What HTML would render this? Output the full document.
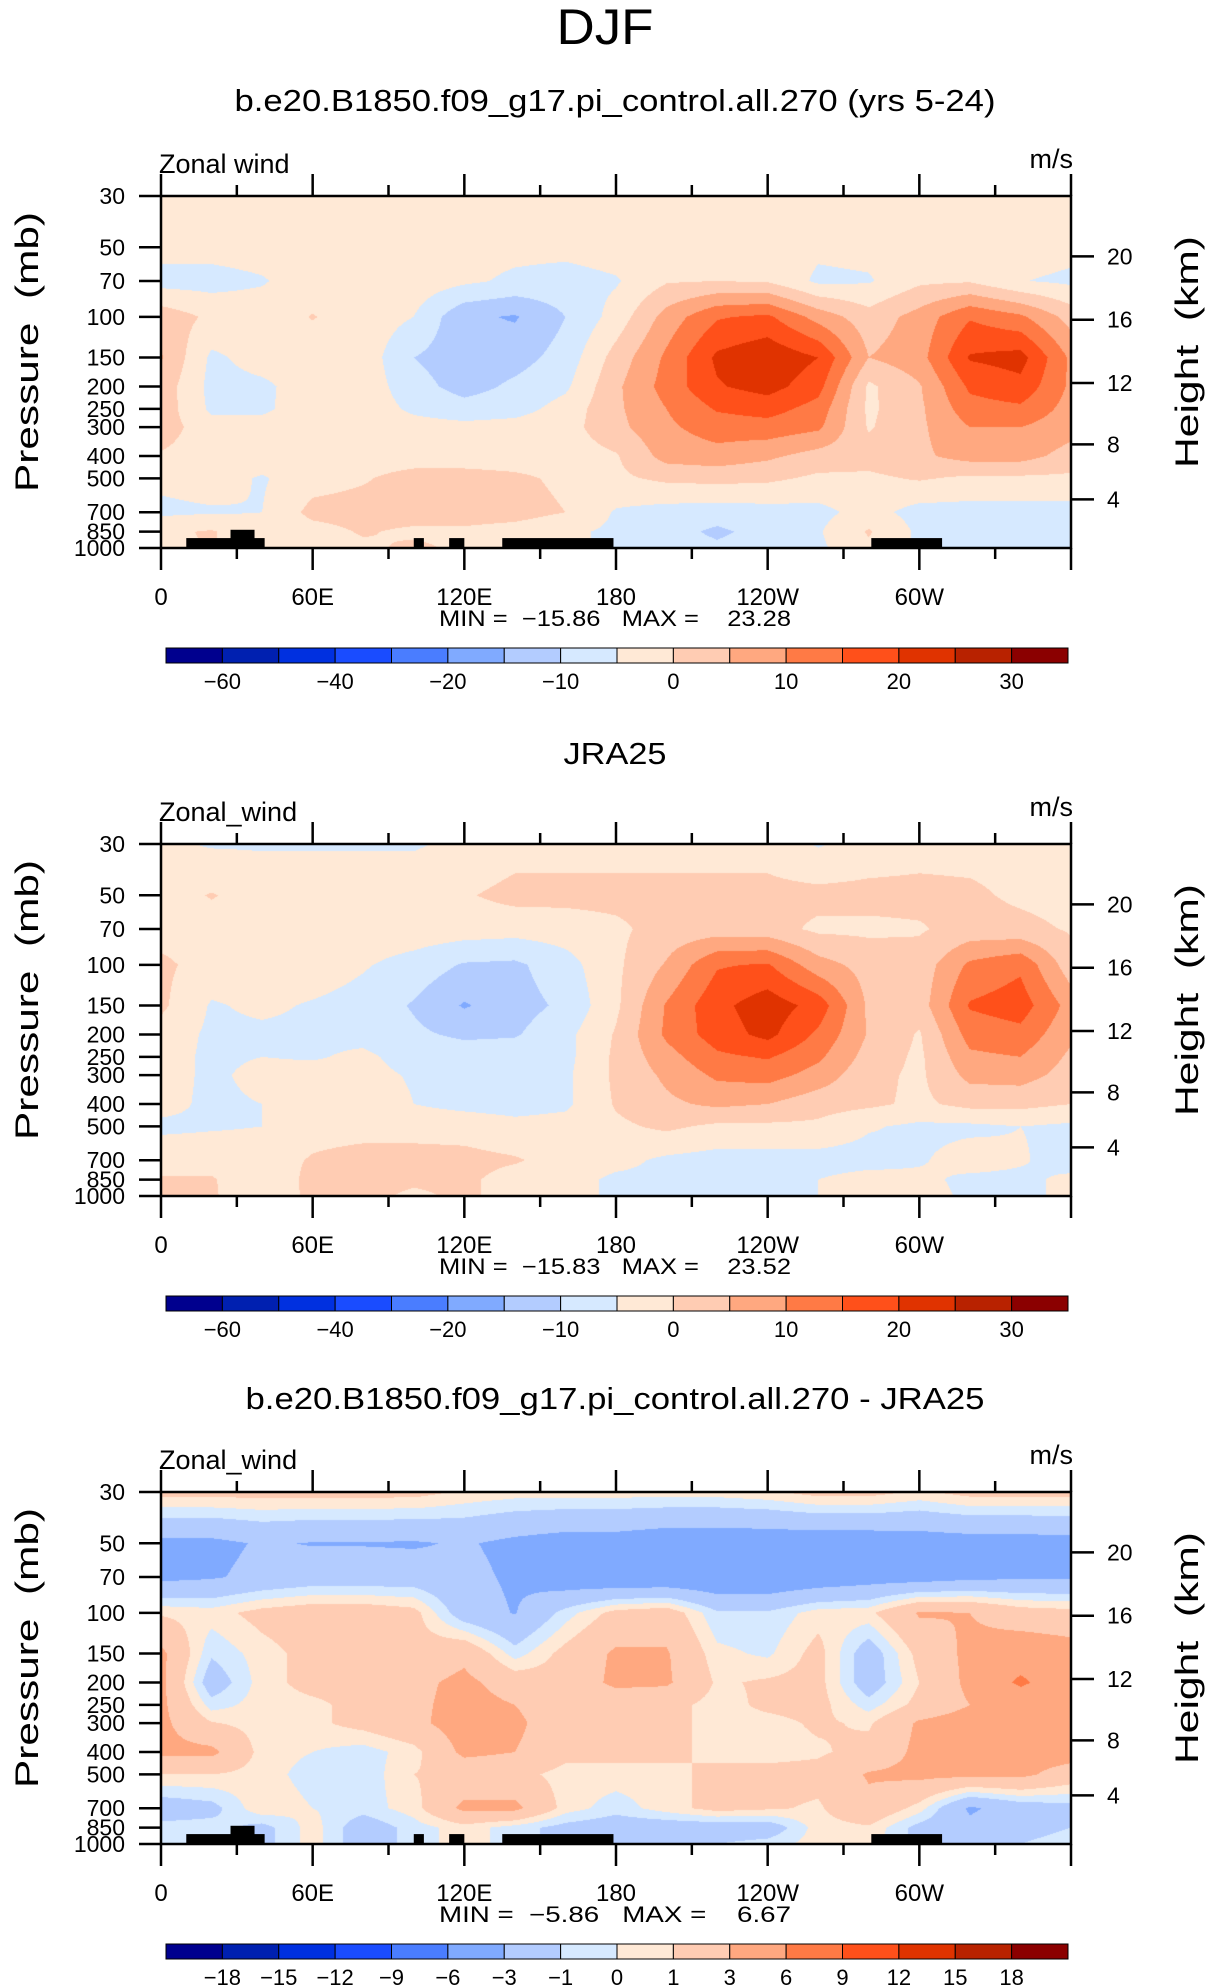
<!DOCTYPE html>
<html><head><meta charset="utf-8">
<style>
html,body{margin:0;padding:0;background:#fff;}
#wrap{position:relative;width:1206px;height:1987px;overflow:hidden;background:#fff;}
canvas{position:absolute;}
svg{position:absolute;left:0;top:0;}
text{font-family:"Liberation Sans",sans-serif;fill:#000;white-space:pre;}
</style></head>
<body>
<div id="wrap">
<canvas id="c0" width="910" height="352" style="left:161px;top:196px"></canvas>
<canvas id="c1" width="910" height="352" style="left:161px;top:844px"></canvas>
<canvas id="c2" width="910" height="352" style="left:161px;top:1492px"></canvas>
<svg id="s" width="1206" height="1987"></svg>
</div>
<script>
const lons=[0,20,40,60,80,100,120,140,160,180,200,220,240,260,280,300,320,340,360];
const plevs=[30,50,70,100,150,200,250,300,400,500,700,850,1000];
const modelVals=[
[-2,-2,-2,-2,-2,-2,-2,-2,-2,-2,-2,-2,-2,-2,-2,-2,-2,-2,-2],
[-3,-3,-2.5,-2,-2,-2,-3,-3.5,-3.5,-2.5,-2,-2,-2,-4,-3.5,-2,-2,-2.5,-3.5],
[-7,-7,-5.5,-2,-2,-2,-4,-6,-7,-5.5,-0.5,0,-0.5,-6,-5.5,-1,-0.5,-4.8,-6],
[3,-1,-2,0.2,-2,-5,-14,-15.5,-10,-3,7,14.5,16,8,2,7,14.5,11,3],
[5.5,-6,-3,-2,-2,-10,-13,-12,-8,2,11,21,24,20,5,8,20.5,22,9],
[3,-6.5,-6,-2.5,-2,-8,-12,-9,-6,4,12,19.5,22,17,-1,4.5,16,18.5,9],
[3,-6,-6,-2,-2,-6,-8,-7,-3,4,10,15.5,17,13,-1,4,13,14,8],
[2.5,-3,-3,-2,-2,-3,-3.5,-3,-2,3.5,9,12.5,13,11,-0.5,4,10,10,7],
[-0.5,-2.5,-2.5,-2.5,-2.5,-2.5,-2.5,-2.5,-2.5,-0.5,7,8,6,3,2,4,7,7,3],
[-4,-3,-5.5,-2,-0.5,2,2,1,-1,-1,1,1.5,1,-1,-1,0.5,-1,-1,-1],
[-6,-5.5,-5,1.5,2,2.5,2.5,2,0,-5.5,-7,-7.5,-7,-6.5,-3,-7,-7,-7,-7],
[-1,0.5,-4,-2,0.5,-1,-1,-2,-4,-6,-8,-11,-8,-5.5,0.5,-6,-6,-5.5,-5.5],
[-2,0.5,-4,-2,-1,1,-1,-2,-4,-6,-7,-9,-7,-6,-1,-6,-6,-6,-6]];
const jraVals=[
[-4,-5.5,-5.5,-5.5,-5.5,-5.5,-4,-2,-2,-2,-2,-2,-2,-5.5,-3,-2,-2,-2,-2],
[-2,0.3,-2,-2,-2,-2,-0.5,1.5,1.5,1.5,1.5,1.5,1.5,1.5,1.5,1.5,1,-1,-2],
[-2,-2,-2,-2,-2,-2,-2.5,-3,-2.5,-1,2,2.5,2,-1,-1,-0.5,2,1.5,-0.5],
[1,-2,-2,-2,-4.5,-7,-10.5,-11,-7,-1,5.5,14.5,15.5,7,3,2,11,14,2],
[1,-5.5,-4,-5.5,-7,-10.5,-15.5,-12,-9,-1,10.5,18.5,23,18,4,2.5,15.5,17.5,8],
[-2,-6,-6,-6,-6.5,-9,-11,-10.5,-6.5,0.5,11,17.5,21.5,14,4.5,-0.5,12,13.5,6],
[-3,-6,-5,-5.5,-4,-7,-7,-7,-6.5,1,8,14,15.5,11,3,-1,9,10,4],
[-3,-6,-3.5,-3,-3.5,-5.5,-6.5,-6,-6,1,6,11,12,8,1.5,-1,6.5,7,3],
[-3.5,-6,-5,-3,-2,-5,-6.5,-7,-6,0.5,4,6,5,2,1,-1,1.5,1.5,0],
[-6,-5.5,-5,-2,-2,-2,-2,-3.5,-3,-1,1,-1,-1,-1,-4.5,-6,-6,-5,-6],
[-2,-2,-2.5,0.5,2,2,1.5,0.5,-2,-3.5,-6,-7,-7,-7,-7,-5.5,-3,-4.5,-7],
[0.5,0.5,-4,1.5,1.5,1,1,-2,-3,-6,-6,-6,-6,-5,-3,-4,-6,-6,-4],
[0.5,0.5,-3,1,1.5,-1,1,-2,-3,-6,-6,-6,-6,-5,-2,-3,-6,-6,-4]];
const diffVals=[
[1.5,1.5,1.5,1.5,1.5,1.5,0.8,0.5,0.5,0.5,0.5,0.5,0.8,1.5,1.5,0.8,1.5,1.5,1.5],
[-3.5,-3.5,-2.8,-3.1,-3.1,-3.2,-2.8,-3.5,-4,-4,-4.5,-4.5,-4.5,-4.5,-4.5,-4.2,-4,-4,-3.8],
[-3.5,-3.2,-2.5,-2,-2,-2,-2.5,-3.3,-4.5,-5,-5,-5,-5,-4.5,-4,-4,-3.5,-3.3,-3.2],
[0.8,0.5,1.5,2,2,1.5,-2,-3.1,-0.5,1.5,2,-0.8,-0.8,0.5,0.7,3.2,3,1.8,1.5],
[3.5,-0.8,0.5,1.5,1.5,1.5,2.5,-0.5,1.5,3.3,3.2,0.3,-0.2,1.5,-2,1.5,3.5,4.5,4],
[3.5,-2,0.5,1.5,1.5,2.5,3.5,2,1.5,3.5,3.3,0.8,1.2,1.5,-2,1,3.5,6.5,4],
[3.5,-0.5,0.5,0.7,1.5,2.5,3.8,3,1.5,1.5,1.5,0.5,1.3,1.5,-0.5,1.5,3,4,4],
[3.5,1.1,0.5,0.7,1.5,2.5,4,3.5,1.5,1.5,1.5,0.5,0.6,1.2,0.8,3.3,4,4,4],
[3.5,3.5,0.5,0,-0.5,0.5,3.5,3,1.5,1.5,1.5,0.5,0.5,0.8,1.5,3.5,4,4,4],
[1,1,0.5,-0.5,-0.7,1,1.5,1.5,0.5,0.5,0.5,1.5,1.5,1.5,3.2,3.5,3.5,3.5,2],
[-2,-1.5,0.8,0,-0.5,0.5,3.5,3.5,0.5,-0.5,0.5,1.5,1.2,0.8,2.5,0.5,-3.3,-2,-1.5],
[-0.5,-0.5,-1.5,0.5,-2,-0.5,0.5,-0.5,-1.5,-2,-2,-2,-2,0.5,0.8,-1.5,-2.5,-1.5,-1],
[-0.5,-0.5,-1.5,0.5,-2,-0.5,0.5,-0.5,-1.5,-2,-1.5,-1,-0.5,0.5,0.5,-1.5,-1.5,-1,-0.5]];
const levelsAbs=[-60,-50,-40,-30,-20,-15,-10,-5,0,5,10,15,20,25,30];
const levelsDiff=[-18,-15,-12,-9,-6,-3,-1,0,1,3,6,9,12,15,18];
const cbLabelsAbs=["−60","−40","−20","−10","0","10","20","30"];
const cbLabelIdxAbs=[0,2,4,6,8,10,12,14];
const cbLabelsDiff=["−18","−15","−12","−9","−6","−3","−1","0","1","3","6","9","12","15","18"];
const cbLabelIdxDiff=[0,1,2,3,4,5,6,7,8,9,10,11,12,13,14];
const colors=["#00008e","#0020b0","#0030e0","#1a4cff","#4a7dff","#80aaff","#b3ccff","#d6e9ff","#ffe9d6","#ffccb3","#ffa880","#ff7a45","#ff501a","#e03300","#b82200","#8b0000"];
const pTicks=[30,50,70,100,150,200,250,300,400,500,700,850,1000];
const zTicks=[4,8,12,16,20];
const lonTicks=[0,30,60,90,120,150,180,210,240,270,300,330,360];
const lonLabels={0:"0",60:"60E",120:"120E",180:"180",240:"120W",300:"60W"};
const topoStart=[10,27.5,100,114,135,281];
const topoEnd=[41,37,104,120,179,309];
const topoP=[906,834,906,906,906,906];
const titles=["b.e20.B1850.f09_g17.pi_control.all.270 (yrs 5-24)","JRA25","b.e20.B1850.f09_g17.pi_control.all.270 - JRA25"];
const titleW=[761,103,739];
const leftLabels=["Zonal wind","Zonal_wind","Zonal_wind"];
const minVals=["−15.86","−15.83","−5.86"];
const maxVals=["23.28","23.52","6.67"];

const X0=161,W=910,H=352;
const tops=[196,844,1492];
const titleY=[111,764,1409];
const LP0=Math.log10(30),LPR=Math.log10(1000)-Math.log10(30);
function xOf(lon){return X0+lon/360*W;}
function yOf(p,top){return top+(Math.log10(p)-LP0)/LPR*H;}
function pOfZ(z){const m=z*1000;return m<=11000?1013.25*Math.pow(1-2.25577e-5*m,5.25588):226.32*Math.exp(-(m-11000)/6341.6);}
const lpl=plevs.map(p=>Math.log10(p));
function fieldAt(vals,lon,lp){
  let k=0;while(k<lpl.length-2&&lp>lpl[k+1])k++;
  let t=(lp-lpl[k])/(lpl[k+1]-lpl[k]);t=Math.max(0,Math.min(1,t));
  let i=Math.min(Math.floor(lon/20),lons.length-2);let s=(lon-lons[i])/20;
  const a=vals[k][i]*(1-s)+vals[k][i+1]*s;
  const b=vals[k+1][i]*(1-s)+vals[k+1][i+1]*s;
  return a*(1-t)+b*t;
}
function hex(c){return [parseInt(c.slice(1,3),16),parseInt(c.slice(3,5),16),parseInt(c.slice(5,7),16)];}
const rgb=colors.map(hex);
function drawField(id,vals,levels){
  const cv=document.getElementById(id),ctx=cv.getContext('2d');
  const img=ctx.createImageData(W,H);
  for(let py=0;py<H;py++){
    const lp=LP0+(py+0.5)/H*LPR;
    for(let px=0;px<W;px++){
      const v=fieldAt(vals,(px+0.5)/W*360,lp);
      let c=0;while(c<levels.length&&v>=levels[c])c++;
      const o=(py*W+px)*4,col=rgb[c];
      img.data[o]=col[0];img.data[o+1]=col[1];img.data[o+2]=col[2];img.data[o+3]=255;
    }
  }
  ctx.putImageData(img,0,0);
}
drawField('c0',modelVals,levelsAbs);
drawField('c1',jraVals,levelsAbs);
drawField('c2',diffVals,levelsDiff);

const NS="http://www.w3.org/2000/svg";
const svg=document.getElementById('s');
function mk(tag,attrs,txt){const e=document.createElementNS(NS,tag);for(const k in attrs)e.setAttribute(k,attrs[k]);if(txt!==undefined)e.textContent=txt;svg.appendChild(e);return e;}

let e=mk('text',{x:605,y:44,'font-size':50,'text-anchor':'middle',textLength:97,lengthAdjust:'spacingAndGlyphs'},'DJF');



for(let P=0;P<3;P++){
  const top=tops[P],bot=top+H;
  e=mk('text',{x:615,y:titleY[P],'font-size':31,'text-anchor':'middle',textLength:titleW[P],lengthAdjust:'spacingAndGlyphs'},titles[P]);
  
  
  e=mk('text',{x:159,y:top-23,'font-size':27},leftLabels[P]);
  
  
  e=mk('text',{x:1073,y:top-28,'font-size':27,'text-anchor':'end'},'m/s');
  
  
  if(P!==1){
    for(let j=0;j<topoStart.length;j++){
      e=mk('rect',{x:xOf(topoStart[j]),y:yOf(topoP[j],top),width:xOf(topoEnd[j])-xOf(topoStart[j]),height:bot-yOf(topoP[j],top),fill:'#000'});
      
      
    }
  }
  e=mk('rect',{x:X0,y:top,width:W,height:H,fill:'none',stroke:'#000','stroke-width':2.5});
  
  
  lonTicks.forEach(l=>{
    const major=(l%60===0);const len=major?22:11;
    e=mk('line',{x1:xOf(l),x2:xOf(l),y1:top,y2:top-len,stroke:'#000','stroke-width':2.5});
    
    
    e=mk('line',{x1:xOf(l),x2:xOf(l),y1:bot,y2:bot+len,stroke:'#000','stroke-width':2.5});
    
    
    if(lonLabels[l]!==undefined){
      e=mk('text',{x:xOf(l),y:bot+57,'font-size':24,'text-anchor':'middle'},lonLabels[l]);
      
      
    }
  });
  pTicks.forEach(p=>{
    e=mk('line',{x1:X0-22,x2:X0,y1:yOf(p,top),y2:yOf(p,top),stroke:'#000','stroke-width':2.5});
    
    
    e=mk('text',{x:125,y:yOf(p,top)+8,'font-size':23,'text-anchor':'end'},String(p));
    
    
  });
  zTicks.forEach(z=>{
    const y=yOf(pOfZ(z),top);
    e=mk('line',{x1:X0+W,x2:X0+W+23,y1:y,y2:y,stroke:'#000','stroke-width':2.5});
    
    
    e=mk('text',{x:1107,y:y+8,'font-size':23},String(z));
    
    
  });
  const mid=top+H/2-20;
  e=mk('text',{x:0,y:0,'font-size':32,'text-anchor':'middle',transform:`translate(38,${mid}) rotate(-90)`,textLength:280,lengthAdjust:'spacingAndGlyphs'},'Pressure  (mb)');
  
  
  e=mk('text',{x:0,y:0,'font-size':32,'text-anchor':'middle',transform:`translate(1198,${mid}) rotate(-90)`,textLength:232,lengthAdjust:'spacingAndGlyphs'},'Height  (km)');
  
  
  e=mk('text',{x:615,y:bot+78,'font-size':22,'text-anchor':'middle',textLength:352,lengthAdjust:'spacingAndGlyphs'},`MIN =  ${minVals[P]}   MAX =    ${maxVals[P]}`);
  
  
  const cbY=top+452,cbX=166,cbW=902,bw=cbW/16;
  for(let k=0;k<16;k++){
    e=mk('rect',{x:cbX+k*bw,y:cbY,width:bw,height:15,fill:colors[k],stroke:'#000','stroke-width':1});
    
    
  }
  const labs=P===2?cbLabelsDiff:cbLabelsAbs, idx=P===2?cbLabelIdxDiff:cbLabelIdxAbs;
  labs.forEach((t,j)=>{
    e=mk('text',{x:cbX+(idx[j]+1)*bw,y:cbY+41,'font-size':22,'text-anchor':'middle'},t);
    
    
  });
}
</script>
</body></html>
